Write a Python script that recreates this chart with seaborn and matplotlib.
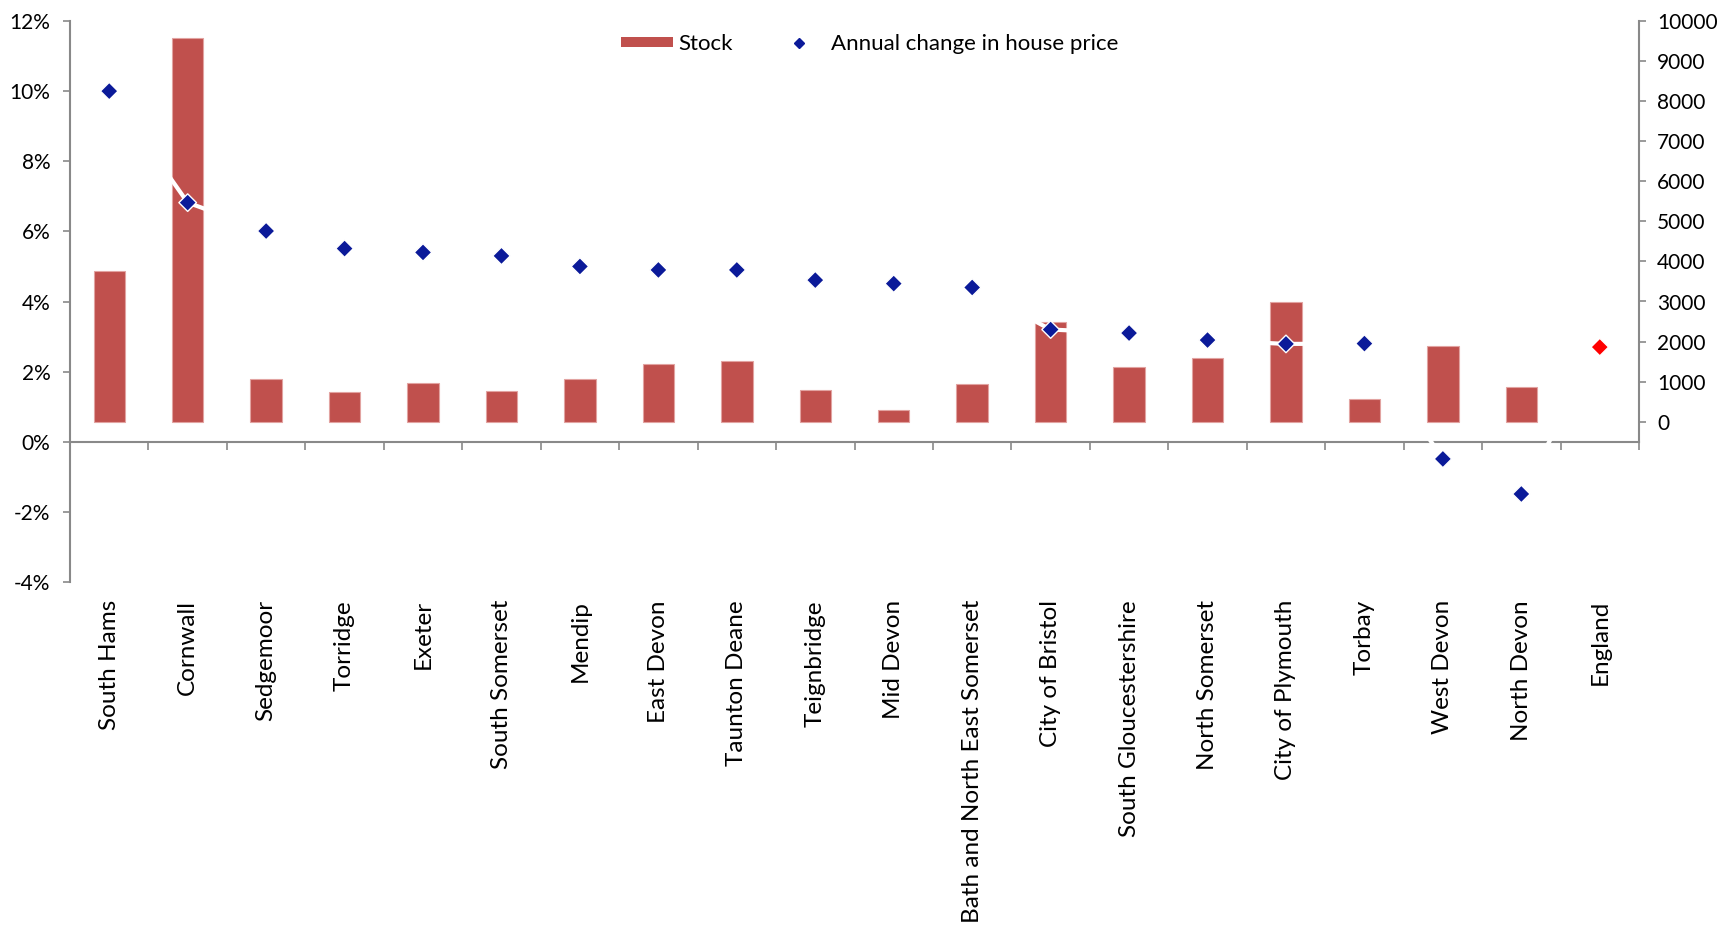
import numpy as np
import pandas as pd
import matplotlib
matplotlib.use("Agg")
import matplotlib.pyplot as plt
import seaborn as sns
from matplotlib.patches import Patch
from matplotlib.lines import Line2D
from matplotlib.ticker import FixedLocator, FuncFormatter

# ---- data -------------------------------------------------------------
areas = [
    "South Hams", "Cornwall", "Sedgemoor", "Torridge", "Exeter",
    "South Somerset", "Mendip", "East Devon", "Taunton Deane", "Teignbridge",
    "Mid Devon", "Bath and North East Somerset", "City of Bristol",
    "South Gloucestershire", "North Somerset", "City of Plymouth", "Torbay",
    "West Devon", "North Devon", "England",
]
stock = [
    3770, 9570, 1060, 750, 970, 760, 1070, 1440, 1510, 780,
    285, 930, 2500, 1365, 1580, 2980, 560, 1895, 860, np.nan,
]
price_change_pct = [
    10.0, 6.82, 6.01, 5.51, 5.40, 5.30, 5.00, 4.90, 4.90, 4.61,
    4.51, 4.40, 3.20, 3.10, 2.90, 2.79, 2.80, -0.49, -1.49, 2.70,
]
benchmark = "England"

pct_ticks = [-4, -2, 0, 2, 4, 6, 8, 10, 12]
stock_ticks = [0, 1000, 2000, 3000, 4000, 5000, 6000, 7000, 8000, 9000, 10000]

# ---- style ------------------------------------------------------------
BAR = "#C0504D"
BAR_EDGE = "#E2A3A1"
BLUE = "#0B1A99"
RED = "#FF0000"
AXIS = "#898989"

sns.set_theme(style="ticks")
plt.rcParams["font.family"] = ["Lato", "DejaVu Sans"]
plt.rcParams["text.color"] = "black"
plt.rcParams["xtick.color"] = AXIS
plt.rcParams["ytick.color"] = AXIS
plt.rcParams["xtick.labelcolor"] = "black"
plt.rcParams["ytick.labelcolor"] = "black"

W, H = 1719, 930
fig = plt.figure(figsize=(W / 100, H / 100), dpi=100)
rect = [70 / W, 1 - 582 / H, (1639 - 70) / W, (582 - 21) / H]

df = pd.DataFrame({"area": areas, "stock": stock, "change": price_change_pct})
df["pos"] = np.arange(len(df))
df["group"] = np.where(df["area"] == benchmark, "benchmark", "area")

# ---- stock bars (right-hand scale) -------------------------------------
ax = fig.add_axes(rect)
sns.barplot(data=df, x="area", y="stock", order=areas, ax=ax, color=BAR,
            saturation=1, width=0.40, errorbar=None,
            edgecolor=BAR_EDGE, linewidth=0.8)
ax.set_xlim(-0.5, len(areas) - 0.5)
ax.set_ylim(-4000, 10000)
ax.set_xlabel("")
ax.set_ylabel("")
ax.yaxis.tick_right()
ax.yaxis.set_major_locator(FixedLocator(stock_ticks))
ax.yaxis.set_major_formatter(FuncFormatter(lambda v, _: f"{v:.0f}"))
ax.tick_params(axis="y", which="major", right=True, left=False,
               direction="out", length=5, width=1.2, pad=8, labelsize=15)
ax.tick_params(axis="x", bottom=True, length=0, pad=13, labelsize=17.5,
               labelrotation=90)
for side in ("left", "top", "bottom"):
    ax.spines[side].set_visible(False)
ax.spines["right"].set_visible(True)
ax.spines["right"].set_color(AXIS)
ax.spines["right"].set_linewidth(1.5)
ax.spines["right"].set_bounds(-500, 10000)
ax.grid(False)

# ---- annual price change (left-hand scale) -----------------------------
ax2 = fig.add_axes(rect)
ax2.patch.set_visible(False)
sns.lineplot(data=df, x="pos", y="change", ax=ax2, color="white",
             linewidth=3, sort=False, estimator=None, zorder=3, legend=False)
sns.scatterplot(data=df, x="pos", y="change", hue="group", ax=ax2,
                palette={"area": BLUE, "benchmark": RED}, marker="D", s=80,
                edgecolor="white", linewidth=1.0, zorder=4, legend=False)
ax2.set_xlim(-0.5, len(areas) - 0.5)
ax2.set_ylim(-4, 12)
ax2.set_xlabel("")
ax2.set_ylabel("")
ax2.set_xticks(np.arange(-0.5, len(areas), 1.0))
ax2.set_xticklabels([])
ax2.tick_params(axis="x", bottom=True, top=False, direction="out",
                length=6, width=1.2, pad=0)
ax2.yaxis.set_major_locator(FixedLocator(pct_ticks))
ax2.yaxis.set_major_formatter(FuncFormatter(lambda v, _: f"{v:.0f}%"))
ax2.tick_params(axis="y", left=True, right=False, direction="out",
                length=5, width=1.2, pad=9, labelsize=15)
for side in ("right", "top"):
    ax2.spines[side].set_visible(False)
ax2.spines["bottom"].set_position(("data", 0))
for side in ("left", "bottom"):
    ax2.spines[side].set_color(AXIS)
    ax2.spines[side].set_linewidth(1.5)
ax2.grid(False)

# ---- legend -----------------------------------------------------------
handles = [
    Patch(facecolor=BAR, edgecolor="none", label="Stock"),
    Line2D([], [], linestyle="none", marker="D", markersize=5,
           markerfacecolor=BLUE, markeredgecolor=BLUE,
           label="Annual change in house price"),
]
fig.legend(handles=handles, loc="center left",
           bbox_to_anchor=(621 / W, 1 - 44 / H), ncol=2, frameon=False,
           fontsize=16, handlelength=2.34, handleheight=0.35,
           handletextpad=0.25, columnspacing=1.8, borderpad=0,
           borderaxespad=0)

fig.savefig("out.png", dpi=100)
